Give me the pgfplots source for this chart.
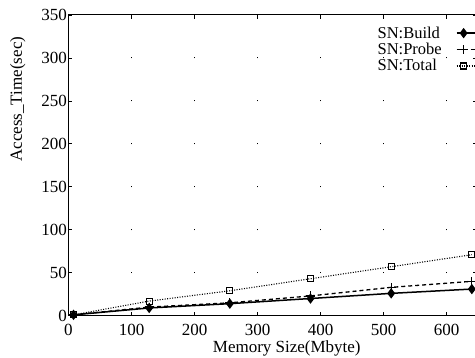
\documentclass[border=0pt]{standalone}
\usepackage{pgfplots}
\pgfplotsset{compat=1.18}
\usepackage{fontspec}
\setmainfont{Liberation Serif}
\begin{document}
\begin{tikzpicture}
\begin{axis}[
  scale only axis, width=408pt, height=300.7pt,
  xmin=0, xmax=647.4, ymin=0, ymax=350,
  xtick={0,100,...,600}, ytick={0,50,...,350},
  tick align=inside, major tick length=4pt,
  axis line style={line width=1pt},
  tick style={line width=0.8pt, black},
  /pgf/number format/assume math mode=true,
  ticklabel style={font=\fontsize{17}{17}\selectfont},
  xticklabel style={yshift=-5pt},
  yticklabel style={xshift=2pt},
  xmajorgrids,
  grid style={black, line width=1pt, dash pattern=on 1pt off 41.957pt, dash phase=0.5pt},
  xlabel={Memory Size(Mbyte)},
  ylabel={Access\_Time(sec)},
  label style={font=\fontsize{17}{17}\selectfont},
  xlabel style={at={(axis description cs:0.535,-0.108)}, anchor=center},
  ylabel style={at={(axis description cs:-0.124,0.72)}, anchor=center},
  legend plot pos=right,
  legend cell align=left,
  legend style={draw=none, fill=none, at={(axis cs:487,339)}, anchor=north west,
    font=\fontsize{16.5}{16.5}\selectfont, row sep=-0.5pt, inner sep=0pt,
    /tikz/column 1/.style={column sep=12pt}},
  legend image code/.code={\draw[mark repeat=2,mark phase=2,#1] plot coordinates {(0cm,0cm) (0.25cm,0cm) (1.3cm,0cm)};},
]
\addplot[black, line width=1.5pt, mark=diamond*, mark size=4pt, mark options={solid}]
  coordinates {(8,1) (128,9) (256,14) (384,20) (512,26) (640,31)};
\addlegendentry{SN:Build}
\addplot[black, line width=1.3pt, dash pattern=on 4pt off 3pt, mark=+, mark size=4.5pt, mark options={solid, line width=1.3pt}]
  coordinates {(8,1) (128,10) (256,15) (384,23) (512,33) (640,40)};
\addlegendentry{SN:Probe}
\addplot[black, line width=1.1pt, dash pattern=on 1pt off 1.5pt, mark=square, mark size=3pt, mark options={solid, line width=1.1pt}]
  coordinates {(8,1) (128,17) (256,29) (384,43) (512,57) (640,71)};
\addlegendentry{SN:Total}
\end{axis}
\pgfresetboundingbox
\useasboundingbox (-68.5pt,-42.3pt) rectangle (406.5pt,315.7pt);
\end{tikzpicture}
\end{document}
